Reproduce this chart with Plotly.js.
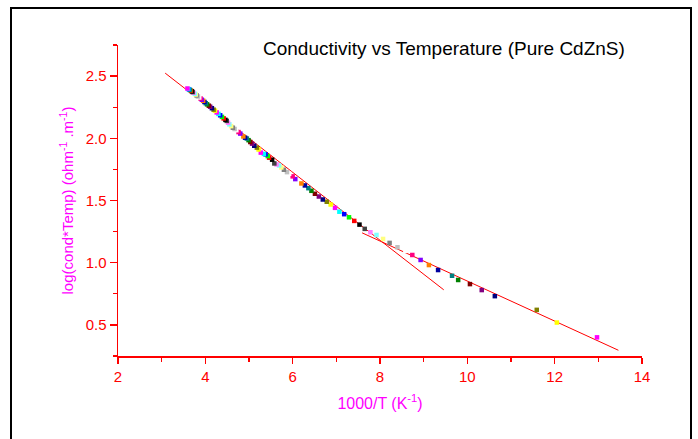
<!DOCTYPE html>
<html><head><meta charset="utf-8">
<script src="https://cdn.plot.ly/plotly-3.0.1.min.js"></script>
<style>html,body{margin:0;padding:0;background:#fff;}#chart{width:698px;height:439px;}</style>
</head><body><div id="chart"></div>
<script>
// Measured points, listed from high 1000/T to low 1000/T
const invT = [12.97,12.05,11.59,10.63,10.33,10.06,9.79,9.65,9.33,9.12,8.93,8.74,8.58,8.40,8.22,8.07,7.92,7.78,7.65,7.53,
  7.41,7.29,7.18,7.07,6.97,6.87,6.78,6.69,6.60,6.51,6.43,6.36,6.28,6.20,6.06,6.00,5.92,5.87,5.80,5.74,
  5.69,5.63,5.58,5.53,5.46,5.43,5.38,5.34,5.27,5.22,5.18,5.12,5.07,5.03,4.99,4.95,4.91,4.87,4.80,4.76,
  4.71,4.67,4.63,4.59,4.55,4.52,4.49,4.46,4.42,4.38,4.34,4.30,4.26,4.22,4.19,4.15,4.11,4.08,4.04,4.01,
  3.98,3.95,3.92,3.89,3.86,3.83,3.80,3.78,3.76,3.73,3.71,3.69,3.67,3.65,3.63,3.61,3.59];
const logCondT = [0.400,0.519,0.621,0.731,0.780,0.828,0.861,0.895,0.941,0.981,1.022,1.062,1.095,1.124,1.159,1.191,1.223,1.245,1.272,1.306,
  1.336,1.365,1.390,1.410,1.441,1.468,1.490,1.508,1.532,1.554,1.578,1.599,1.621,1.637,1.672,1.694,1.715,1.728,1.747,1.766,
  1.782,1.790,1.798,1.828,1.844,1.857,1.871,1.875,1.885,1.910,1.925,1.940,1.957,1.970,1.985,1.998,2.005,2.015,2.038,2.050,
  2.065,2.075,2.085,2.098,2.112,2.125,2.140,2.148,2.160,2.172,2.185,2.196,2.208,2.222,2.230,2.242,2.254,2.262,2.273,2.282,
  2.292,2.302,2.310,2.320,2.328,2.336,2.345,2.352,2.358,2.366,2.372,2.378,2.383,2.388,2.393,2.396,2.400];
// Linear fits (end points)
const fitHighX = [3.08, 9.46];
const fitHighY = [2.524, 0.782];
const fitLowX = [7.59, 13.46];
const fitLowY = [1.24, 0.296];
const xTickVals = [2,4,6,8,10,12,14];
const yTickVals = [0.5,1.0,1.5,2.0,2.5];

// Origin default colour sequence (style)
const originPalette = ['#000000','#FF0000','#00FF00','#0000FF','#00FFFF','#FF00FF','#FFFF00','#808000',
  '#000080','#800080','#800000','#008000','#008080','#0000A0','#FF8000','#8000FF','#FF0080','#FFFFFF',
  '#C0C0C0','#808080','#FFFF80','#80FFFF','#FF80FF','#404040'];
const colors = invT.map((_, i) => originPalette[(5 + i) % originPalette.length]);

const font = 'Arial, "Liberation Sans", sans-serif';
const traces = [
  {x: fitHighX, y: fitHighY, mode: 'lines', line: {color: '#FF0000', width: 1}, hoverinfo: 'skip'},
  {x: fitLowX, y: fitLowY, mode: 'lines', line: {color: '#FF0000', width: 1}, hoverinfo: 'skip'},
  {x: invT, y: logCondT, mode: 'markers', marker: {symbol: 'square', size: 4.5, color: colors, line: {width: 0}}}
];
const axisCommon = {
  showline: true, linecolor: '#FF0000', linewidth: 1.5, mirror: false,
  ticks: 'outside', tickcolor: '#FF0000', tickwidth: 1.3,
  showgrid: false, zeroline: false,
  tickfont: {family: font, size: 15, color: '#FF0000'}
};
const layout = {
  width: 698, height: 439,
  margin: {l: 118, r: 56, t: 45, b: 83},
  paper_bgcolor: '#FFFFFF', plot_bgcolor: '#FFFFFF',
  showlegend: false,
  xaxis: Object.assign({}, axisCommon, {
    range: [2, 14], tickvals: xTickVals, ticktext: xTickVals.map(String), ticklen: 6,
    minor: {dtick: 1, tick0: 2, ticks: 'outside', ticklen: 4, tickcolor: '#FF0000', tickwidth: 1.3, showgrid: false},
    title: {text: '1000/T (K<sup>-1</sup>)', font: {family: font, size: 16, color: '#FF00FF'}, standoff: 14}
  }),
  yaxis: Object.assign({}, axisCommon, {
    range: [0.25, 2.75], tickvals: yTickVals, ticktext: yTickVals.map(v => v.toFixed(1)), ticklen: 7,
    minor: {dtick: 0.25, tick0: 0.25, ticks: 'outside', ticklen: 4, tickcolor: '#FF0000', tickwidth: 1.3, showgrid: false},
    title: {text: 'log(cond*Temp) (ohm<sup>-1</sup> .m<sup>-1</sup>)', font: {family: font, size: 15, color: '#FF00FF'}, standoff: 8}
  }),
  annotations: [{
    text: 'Conductivity vs Temperature (Pure CdZnS)', xref: 'paper', yref: 'paper',
    x: 0.622, y: 0.99, xanchor: 'center', yanchor: 'middle', showarrow: false,
    font: {family: font, size: 19, color: '#000000'}
  }],
  shapes: [{
    type: 'rect', xref: 'paper', yref: 'paper',
    x0: (11 - 118) / 524, x1: (691 - 118) / 524, y0: -0.3, y1: (356 - 8) / 311,
    line: {color: '#000000', width: 2}, fillcolor: 'rgba(0,0,0,0)', layer: 'below'
  }]
};
Plotly.newPlot('chart', traces, layout, {displayModeBar: false, staticPlot: true});
</script></body></html>
